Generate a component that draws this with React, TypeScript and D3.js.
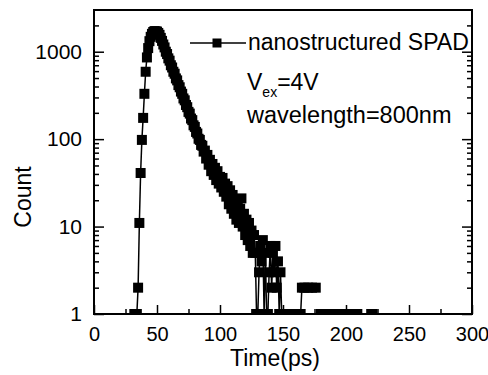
import React, { useRef, useEffect } from "react";
import * as d3 from "d3";

// time bins (ps), one count per bin starting at binStart
const binStart = 28;
const counts = [
  0, 0, 0, 0, 1, 1, 1, 2, 11, 41, // 28-37
  98, 175, 330, 590, 860, 1100, 1320, 1480, 1600, 1680, // 38-47
  1720, 1710, 1700, 1640, 1560, 1440, 1330, 1210, 1120, 1000, // 48-57
  940, 840, 790, 700, 660, 590, 560, 495, 470, 415, // 58-67
  392, 350, 330, 292, 278, 246, 232, 205, 196, 172, // 68-77
  165, 144, 138, 121, 116, 101, 98, 86, 84, 72, // 78-87
  74, 60, 66, 51, 58, 43, 52, 39, 47, 34, // 88-97
  43, 31, 37, 28, 36, 25, 31, 22, 29, 18, // 98-107
  26, 16, 23, 14, 20, 12, 18, 11, 16, 21, // 108-117
  10, 14, 8, 12, 7, 11, 6, 9, 5, 8, // 118-127
  5, 1, 1, 3, 6, 4, 7, 1, 5, 1, // 128-137
  1, 3, 6, 2, 5, 3, 6, 2, 4, 1, // 138-147
  3, 1, 0, 1, 0, 0, 1, 0, 0, 1, // 148-157
  0, 0, 1, 0, 0, 0, 1, 2, 0, 2, // 158-167
  0, 0, 2, 0, 0, 2, 0, 0, 2, 0, // 168-177
  0, 0, 1, 0, 0, 1, 0, 0, 1, 0, // 178-187
  0, 1, 0, 0, 1, 0, 0, 1, 0, 0, // 188-197
  1, 0, 0, 1, 0, 0, 0, 0, 0, 0, // 198-207
  1, 1, 0, 0, 0, 0, 0, 0, 0, 0, // 208-217
  0, 0, 1, 1, 0, 0, 0, 0, // 218-225
];

const xMajor = [0, 50, 100, 150, 200, 250, 300];
const xMinor = [25, 75, 125, 175, 225, 275];
const yMajor = [1, 10, 100, 1000];
const yMinor = [2, 3, 4, 5, 6, 7, 8, 9, 20, 30, 40, 50, 60, 70, 80, 90, 200, 300, 400, 500, 600, 700, 800, 900, 2000];

const legendLabel = "nanostructured SPAD";
const FONT = "Arial, 'Liberation Sans', sans-serif";

export default function App() {
  const ref = useRef<SVGSVGElement>(null);

  useEffect(() => {
    const left = 94, top = 10, right = 472, bottom = 314;
    const x = d3.scaleLinear().domain([0, 300]).range([left, right]);
    const y = d3.scaleLog().domain([1, 3000]).range([bottom, top]);

    const points = counts.map((c, i) => ({ t: binStart + i, c }));

    const svg = d3.select(ref.current);
    svg.selectAll("*").remove();

    svg.append("defs").append("clipPath").attr("id", "plot")
      .append("rect").attr("x", left).attr("y", top)
      .attr("width", right - left).attr("height", bottom - top);

    const plot = svg.append("g").attr("clip-path", "url(#plot)");

    // line, broken where count is zero
    const line = d3.line<{ t: number; c: number }>()
      .defined((d) => d.c > 0)
      .x((d) => x(d.t))
      .y((d) => y(d.c));

    plot.append("path").datum(points)
      .attr("fill", "none").attr("stroke", "#000").attr("stroke-width", 1.5)
      .attr("d", line);

    const ms = 10;
    plot.selectAll("rect.pt").data(points.filter((d) => d.c > 0)).enter()
      .append("rect").attr("class", "pt")
      .attr("x", (d) => x(d.t) - ms / 2).attr("y", (d) => y(d.c) - ms / 2)
      .attr("width", ms).attr("height", ms).attr("fill", "#000");

    // axes with inward ticks
    const styleAxis = (size: number) => (g: any) => {
      g.select(".domain").remove();
      g.selectAll("line").attr("stroke", "#000").attr("stroke-width", 1.5);
      g.selectAll("text").attr("font-family", FONT).attr("font-size", size).attr("fill", "#000");
    };

    svg.append("g").attr("transform", `translate(0,${bottom})`)
      .call(d3.axisBottom(x).tickValues(xMajor).tickSizeInner(-9).tickSizeOuter(0).tickPadding(13).tickFormat(d3.format("d")))
      .call(styleAxis(20));
    svg.append("g").attr("transform", `translate(0,${bottom})`)
      .call(d3.axisBottom(x).tickValues(xMinor).tickSizeInner(-5).tickSizeOuter(0).tickFormat(() => ""))
      .call(styleAxis(20));

    svg.append("g").attr("transform", `translate(${left},0)`)
      .call(d3.axisLeft(y).tickValues(yMajor).tickSizeInner(-10).tickSizeOuter(0).tickPadding(12).tickFormat(d3.format("d")))
      .call(styleAxis(21));
    svg.append("g").attr("transform", `translate(${left},0)`)
      .call(d3.axisLeft(y).tickValues(yMinor).tickSizeInner(-5).tickSizeOuter(0).tickFormat(() => ""))
      .call(styleAxis(21));
    svg.append("g").attr("transform", `translate(${right},0)`)
      .call(d3.axisRight(y).tickValues(yMajor).tickSizeInner(-10).tickSizeOuter(0).tickFormat(() => ""))
      .call(styleAxis(21));
    svg.append("g").attr("transform", `translate(${right},0)`)
      .call(d3.axisRight(y).tickValues(yMinor).tickSizeInner(-5).tickSizeOuter(0).tickFormat(() => ""))
      .call(styleAxis(21));

    // frame
    svg.append("rect").attr("x", left).attr("y", top)
      .attr("width", right - left).attr("height", bottom - top)
      .attr("fill", "none").attr("stroke", "#000").attr("stroke-width", 2);

    // axis titles
    svg.append("text").attr("x", 275).attr("y", 366).attr("text-anchor", "middle")
      .attr("font-family", FONT).attr("font-size", 23).text("Time(ps)");
    svg.append("text").attr("transform", "translate(31,197) rotate(-90)").attr("text-anchor", "middle")
      .attr("font-family", FONT).attr("font-size", 23).text("Count");

    // legend
    svg.append("line").attr("x1", 190).attr("x2", 246).attr("y1", 43).attr("y2", 43)
      .attr("stroke", "#000").attr("stroke-width", 1.5);
    svg.append("rect").attr("x", 217 - 4.5).attr("y", 43 - 4.5)
      .attr("width", 9).attr("height", 9).attr("fill", "#000");
    svg.append("text").attr("x", 248).attr("y", 50)
      .attr("font-family", FONT).attr("font-size", 23).text(legendLabel);

    const vex = svg.append("text").attr("x", 247).attr("y", 90)
      .attr("font-family", FONT).attr("font-size", 23);
    vex.append("tspan").text("V");
    vex.append("tspan").attr("font-size", 14).attr("dy", 7).text("ex");
    vex.append("tspan").attr("dy", -7).text("=4V");

    svg.append("text").attr("x", 247).attr("y", 123)
      .attr("font-family", FONT).attr("font-size", 23.5).text("wavelength=800nm");
  }, []);

  return (
    <svg ref={ref} width={488} height={375}
      style={{ position: "absolute", left: 0, top: 0, background: "#fff" }} />
  );
}
